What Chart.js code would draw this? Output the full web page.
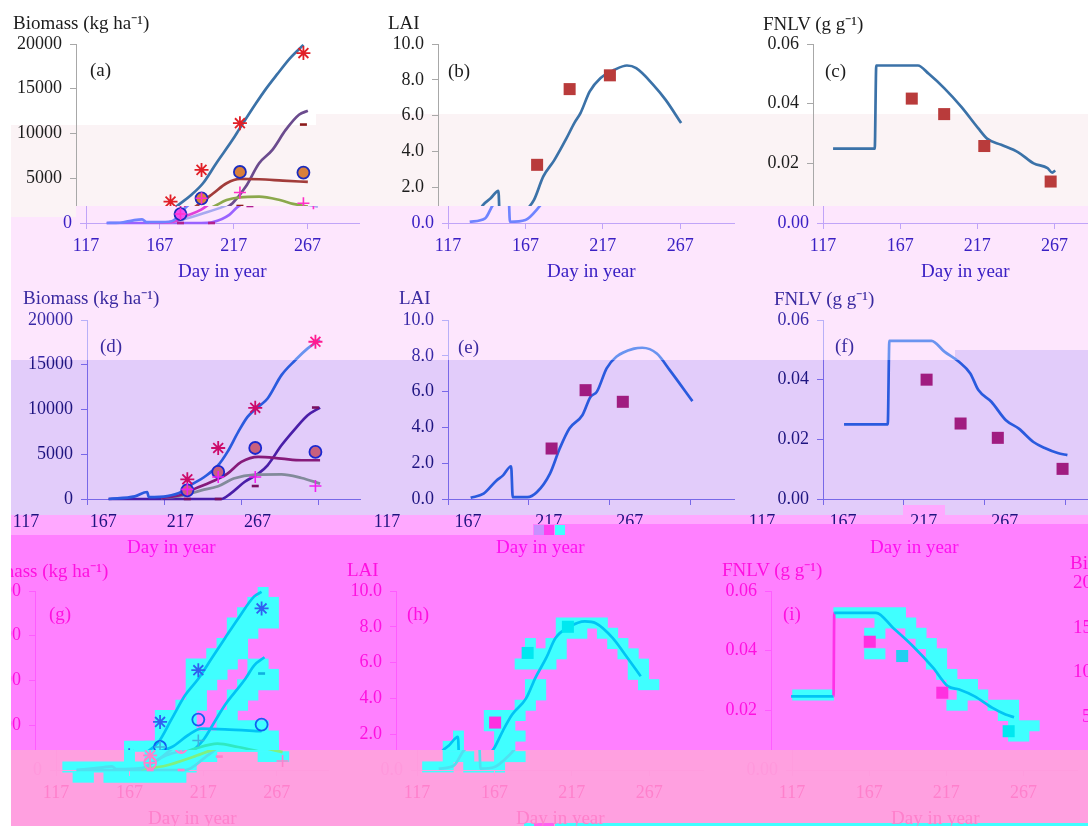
<!DOCTYPE html>
<html>
<head>
<meta charset="utf-8">
<script src="https://cdn.jsdelivr.net/npm/chart.js@4"></script>
<style>
  html, body { margin: 0; padding: 0; background: #fff; }
  #page { position: relative; width: 1088px; height: 826px; overflow: hidden; font-family: "Liberation Serif", serif; }
  .band, .slice, .label { position: absolute; }
  .slice { left: 0; width: 1088px; overflow: hidden; z-index: 2; pointer-events: none; }
  .slice canvas { position: absolute; }
  .label { font-size: 19px; line-height: 20px; white-space: nowrap; z-index: 4; }
</style>
</head>
<body>
<div id="page"></div>
<script>
// tick labels
const xTicks = [117, 167, 217, 267];
const biomassTicks = [0, 5000, 10000, 15000, 20000];
const laiTicks = [0, 2, 4, 6, 8, 10];
const fnlvTicks = [0, 0.02, 0.04, 0.06];

// (a) biomass
const aDayTotal = [131, 140, 149, 155, 158, 165, 175, 185, 195, 203, 212, 223, 228, 239, 246, 253, 262, 271];
const aTotal = [0, 30, 300, 400, 90, 90, 200, 1830, 3130, 4440, 6680, 9290, 10600, 13400, 15070, 16570, 18430, 19900];
const aDayLeaf = [160, 175, 185, 195, 201, 210, 219, 228, 241, 257, 274];
const aLeaf = [50, 100, 800, 1500, 2200, 3320, 4440, 4925, 4890, 4740, 4590];
const aDayStem = [160, 175, 185, 195, 210, 219, 228, 241, 255, 264, 274];
const aStem = [40, 100, 500, 1000, 1830, 2570, 2870, 2950, 2570, 2130, 1830];
const aDayGrain = [131, 195, 203, 214, 219, 223, 232, 241, 250, 259, 268, 274];
const aGrain = [0, 0, 100, 900, 1700, 2200, 4070, 6680, 8170, 10400, 12090, 12540];
const aObsDay = [181, 202, 228, 271];
const aObsStar = [2390, 5930, 11150, 18990];
const aObsCircle = [1000, 2760, 5700, 5630];
const aObsDash = [0, 0, 1900, 11000];
const aObsPlus = [1000, 2760, 3400, 2200];

// (b) LAI
const bDay = [131, 141, 146, 151, 156, 157, 167, 175, 179, 185, 192, 200, 205, 209, 215, 222, 231, 239, 245, 256, 264, 274];
const bLai = [0.07, 0.26, 1.0, 1.38, 1.8, 0.07, 0.17, 0.82, 1.29, 2.6, 3.5, 4.74, 5.58, 6.14, 7.35, 8.1, 8.56, 8.8, 8.65, 7.72, 6.88, 5.58];
const bObsDay = [181, 202, 228];
const bObs = [3.25, 7.48, 8.25];

// (c) FNLV
const cDay = [130, 157, 158, 185, 192, 202, 213, 224, 230, 239, 250, 260, 269, 272, 274];
const cFnlv = [0.0249, 0.0249, 0.0528, 0.0528, 0.05, 0.0452, 0.039, 0.0318, 0.0282, 0.0262, 0.0237, 0.02, 0.0184, 0.0169, 0.0176];
const cObsDay = [181, 202, 228, 271];
const cObs = [0.0417, 0.0365, 0.0258, 0.0139];

// (d) biomass
const dDayTotal = [131, 148, 156, 157, 169, 178, 184, 193, 202, 208, 215, 221, 228, 234, 243, 252, 260, 268];
const dTotal = [0, 300, 780, 220, 330, 780, 1530, 2460, 3770, 5260, 7500, 9180, 10300, 11230, 13840, 15520, 16830, 17760];
const dDayLeaf = [165, 178, 187, 200, 208, 217, 228, 243, 256, 268];
const dLeaf = [100, 480, 1160, 2090, 2840, 4140, 4700, 4510, 4330, 4330];
const dDayStem = [165, 178, 191, 202, 212, 226, 243, 256, 268];
const dStem = [100, 340, 970, 1420, 2280, 2720, 2760, 2350, 1720];
const dDayGrain = [131, 204, 210, 219, 228, 234, 243, 252, 260, 268];
const dGrain = [0, 0, 600, 1900, 2840, 3770, 6000, 7870, 9360, 10220];
const dObsDay = [182, 202, 226, 265];
const dObsStar = [2200, 5700, 10190, 17570];
const dObsCircle = [970, 3020, 5700, 5260];
const dObsDash = [0, 0, 1450, 10220];
const dObsPlus = [1080, 2460, 2460, 1450];

// (e) LAI
const eDay = [131, 139, 147, 151, 156, 157, 166, 172, 180, 186, 192, 200, 205, 209, 215, 221, 232, 237, 246, 254, 268];
const eLai = [0.07, 0.3, 1.04, 1.32, 1.83, 0.1, 0.1, 0.39, 1.42, 2.82, 3.94, 4.68, 5.7, 6.0, 7.3, 7.95, 8.4, 8.45, 8.13, 7.2, 5.47];
const eObsDay = [181, 202, 225];
const eObs = [2.82, 6.08, 5.43];

// (f) FNLV
const fDay = [130, 157, 158, 184, 192, 201, 208, 213, 221, 230, 238, 247, 254, 262, 268];
const fFnlv = [0.025, 0.025, 0.053, 0.053, 0.0494, 0.046, 0.0421, 0.0365, 0.0326, 0.0264, 0.0236, 0.0191, 0.0171, 0.0154, 0.0147];
const fObsDay = [181, 202, 225, 265];
const fObs = [0.04, 0.0253, 0.0205, 0.0101];

// (g) biomass
const gDayTotal = [131, 149, 155, 158, 175, 185, 193, 201, 210, 219, 228, 237, 246, 255, 266, 271];
const gTotal = [0, 300, 400, 90, 200, 1000, 2000, 3130, 5740, 8350, 10200, 12460, 14700, 16900, 19400, 19900];
const gDayLeaf = [175, 192, 210, 221, 230, 246, 271];
const gLeaf = [100, 1640, 2570, 3880, 4620, 4550, 4330];
const gDayStem = [175, 192, 210, 226, 241, 255, 271];
const gStem = [100, 500, 1450, 2390, 2950, 2570, 2000];
const gDayGrain = [131, 205, 219, 226, 232, 239, 246, 253, 260, 266, 273];
const gGrain = [0, 0, 1500, 2400, 3500, 5370, 7240, 8730, 10200, 11700, 12600];
const gObsDay = [181, 202, 228, 271];
const gObsStar = [1640, 5370, 11150, 18050];
const gObsCircle = [800, 2570, 5630, 5070];
const gObsDash = [0, 0, 1500, 10780];
const gObsPlus = [800, 2570, 3300, 1000];

// (h) LAI
const hDay = [131, 141, 147, 151, 157, 158, 167, 175, 180, 186, 192, 201, 207, 214, 220, 229, 239, 246, 257, 265, 275];
const hLai = [0.07, 0.26, 1.07, 1.35, 1.85, 0.08, 0.17, 0.7, 1.17, 2.19, 3.1, 4.0, 5.15, 6.26, 7.37, 8.0, 8.3, 8.2, 7.37, 6.44, 5.24];
const hObsDay = [181, 202, 228];
const hObs = [2.65, 6.54, 8.0];

// (i) FNLV
const iDay = [130, 157.5, 158, 185, 196, 209, 222, 231.5, 239, 249, 260.5, 269, 274.5];
const iFnlv = [0.0247, 0.0247, 0.0527, 0.0527, 0.0477, 0.0415, 0.0343, 0.0281, 0.027, 0.0247, 0.0208, 0.0186, 0.0177];
const iObsDay = [181, 202, 228, 271];
const iObs = [0.043, 0.0382, 0.0259, 0.013];

// cyan compression cells behind the lower row: row number, first column, last column
const cellRow = [0, 1, 2, 3, 4, 5, 6, 7, 7, 8, 8, 9, 9, 10, 10, 11, 11, 12, 12, 13, 13, 14, 15, 15, 16, 16, 16, 17, 18, 18,
  3, 4, 4, 5, 5, 5, 6, 6, 6, 7, 7, 8, 9, 9, 10, 11, 12, 13, 14, 14, 15, 15, 16, 16, 17, 17,
  2, 3, 3, 4, 4, 5, 6, 6, 7, 8, 9, 9, 10, 10, 11, 11, 12, 13, 14];
const cellFrom = [25, 24, 23, 22, 22, 21, 20, 18, 24, 18, 24, 18, 23, 18, 22, 17, 22, 15, 21, 15, 21, 15, 12, 14, 12, 14, 25, 6, 7, 10,
  54, 54, 58, 51, 53, 59, 51, 53, 60, 50, 61, 61, 51, 62, 51, 50, 47, 47, 44, 48, 43, 48, 43, 48, 41, 45,
  81, 85, 87, 84, 88, 89, 84, 90, 90, 91, 92, 93, 77, 93, 92, 96, 97, 98, 98];
const cellTo = [25, 26, 26, 26, 24, 23, 23, 22, 25, 21, 26, 20, 26, 19, 24, 19, 23, 18, 22, 18, 25, 26, 26, 26, 12, 20, 27, 18, 8, 17,
  58, 56, 59, 51, 54, 60, 52, 54, 61, 53, 62, 62, 52, 63, 52, 51, 50, 49, 44, 50, 44, 49, 45, 50, 43, 48,
  87, 86, 88, 85, 89, 90, 85, 91, 91, 92, 94, 94, 80, 95, 93, 98, 98, 100, 99];

const page = document.getElementById('page');

// colour bands of the scan, back to front
function addBand(x, y, w, h, color, z) {
  const d = document.createElement('div');
  d.className = 'band';
  d.style.cssText = `left:${x}px;top:${y}px;width:${w}px;height:${h}px;background:${color};z-index:${z || 0}`;
  page.appendChild(d);
}
addBand(11, 125, 305, 92, '#fbf3f5');
addBand(316, 114, 772, 92, '#fbf3f5');
addBand(76, 206, 240, 11, '#fde6fd');
addBand(11, 217, 1077, 143, '#fde6fd');
addBand(316, 206, 772, 154, '#fde6fd');
addBand(955, 350, 133, 10, '#e2ccfa');
addBand(11, 360, 1077, 155, '#e2ccfa');
addBand(903, 505, 42, 10, '#ffa8ff');
addBand(11, 515, 1077, 20, '#ffa8ff');
addBand(11, 535, 1077, 215, '#ff80ff');
addBand(11, 750, 1077, 76, '#ffa0e0');
addBand(533, 524, 555, 11, '#ff80ff', 3);
addBand(534, 525, 10, 10, '#c890ff', 3);
addBand(544, 525, 10, 10, '#ff40f0', 3);
addBand(555, 525, 10, 10, '#40ffff', 3);
addBand(524, 823, 10, 3, '#40ffff', 3);
addBand(534, 823, 20, 3, '#ff60f0', 3);
addBand(555, 823, 533, 3, '#40ffff', 3);
addBand(0, 0, 11, 826, '#ffffff', 5);

function points(days, values) {
  return days.map((d, i) => ({ x: d, y: values[i] }));
}

// --- cyan cells ---
(function drawCells() {
  const canvas = document.createElement('canvas');
  canvas.width = 1088;
  canvas.height = 240;
  canvas.style.cssText = 'position:absolute;left:1px;top:587px;z-index:1';
  page.appendChild(canvas);
  new Chart(canvas, {
    type: 'bar',
    data: {
      datasets: [{
        data: cellRow.map((r, i) => ({ y: r + 0.5, x: [cellFrom[i], cellTo[i] + 1] })),
        backgroundColor: '#40ffff',
        barThickness: 10.3,
        borderWidth: 0
      }]
    },
    options: {
      indexAxis: 'y',
      responsive: false,
      animation: false,
      layout: { padding: 0 },
      plugins: { legend: { display: false }, tooltip: { enabled: false } },
      scales: {
        x: { type: 'linear', min: 0, max: 1088 / 10.28, display: false },
        y: { type: 'linear', min: 0, max: 240 / 10.28, reverse: true, offset: false, display: false }
      }
    }
  });
})();

const TOP_PAL = { text: '#1c1c1c', yText: '#1c1c1c', axis: '#a8a8a8', axisX: '#a8a8a8', lines: ['#3b72a8', '#a23c3a', '#8ba84c', '#6b4b8e'], star: '#e11f26', fill: '#d9803a', ring: '#1b2bbd', dash: '#8c1a1a', plus: '#ff30c8', square: '#b93b3b' };
const LOW_PAL = { text: '#3a20c4', yText: '#3a20c4', axis: '#c0a4f8', axisX: '#c0a4f8', lines: ['#6f84ff', '#e040d8', '#a8a8f0', '#9a62ff'], star: '#e11f90', fill: '#f050f0', ring: '#1b2bbd', dash: '#b02090', plus: '#ff30d0', square: '#b93b8b' };
const MID_PAL = { text: '#3a2aa8', yText: '#3a2aa8', axis: '#b8b0f8', axisX: '#b8b0f8', lines: ['#6a94f0', '#b030a0', '#a0a0c0', '#6a40d0'], star: '#ff1a90', fill: '#d87090', ring: '#1a28d0', dash: '#901070', plus: '#f020f0', square: '#a01c80' };
const LAV_PAL = { text: '#1e1480', yText: '#1e1480', axis: '#7868e8', axisX: '#7868e8', lines: ['#2a5ade', '#861a7a', '#828a9a', '#4a1ea8'], star: '#cc0a6a', fill: '#c8607e', ring: '#1a28d0', dash: '#7a1060', plus: '#f020f0', square: '#a01c80' };
const PINK_PAL = { text: '#ff10e0', yText: '#ff10e0', axis: '#ff5cff', axisX: '#ff5cff', lines: ['#00c4f4', '#00c4f4', '#30e8c0', '#00c4f4'], star: '#3060f0', fill: 'rgba(0,0,0,0)', ring: '#1060f0', dash: '#10b0e0', plus: '#40b0e0', square: '#00e8f0' };
const WASH_PAL = { text: '#ff80cc', yText: '#ff98dc', axis: '#ff9cde', axisX: '#ff9cde', lines: ['#50e0f0', '#50e0f0', '#80f080', '#50e0f0'], star: '#ff80cc', fill: 'rgba(0,0,0,0)', ring: '#ff80cc', dash: '#ff80cc', plus: '#ff80cc', square: '#00e8f0' };

// each row is cut in two where the picture was torn: top part, bottom part
const rowTop = { yTop: 44, yZero: 223, xMax: 302, labelShift: 0,
  upper: { top: 0, bottom: 206, dx: -10, pal: TOP_PAL, xLabels: false },
  lower: { top: 206, bottom: 290, dx: 0, pal: LOW_PAL, xLabels: true } };
const rowMid = { yTop: 320, yZero: 499, xMax: 294, labelShift: -61,
  upper: { top: 290, bottom: 360, dx: 0, pal: MID_PAL, xLabels: false },
  lower: { top: 360, bottom: 535, dx: 0, pal: LAV_PAL, xLabels: true } };
const rowLow = { yTop: 591, yZero: 770, xMax: 302, labelShift: 0,
  upper: { top: 555, bottom: 750, dx: -21, pal: PINK_PAL, xLabels: false },
  lower: { top: 750, bottom: 826, dx: 0, pal: WASH_PAL, xLabels: true } };

function biomassSets(total, leaf, stem, grain, obsDay, star, circle, dash, plus) {
  return { lines: [total, leaf, stem, grain], obs: [
    { kind: 'plus', data: points(obsDay, plus) },
    { kind: 'circle', data: points(obsDay, circle) },
    { kind: 'dash', data: points(obsDay, dash) },
    { kind: 'star', data: points(obsDay, star) }
  ] };
}
function singleSet(line, obsDay, obs) {
  return { lines: [line], obs: [{ kind: 'square', data: points(obsDay, obs) }] };
}

function buildPanel(row, axisX, spacing, yTicks, decimals, sets, squareColors, rise) {
  [row.upper, row.lower].forEach(slice => {
    const wrap = document.createElement('div');
    wrap.className = 'slice';
    wrap.style.top = slice.top + 'px';
    wrap.style.height = (slice.bottom - slice.top) + 'px';
    page.appendChild(wrap);

    const canvas = document.createElement('canvas');
    const plotW = spacing * (row.xMax - 117) / 50;
    canvas.width = Math.round(80 + plotW + 8);
    canvas.height = 10 + (row.yZero - row.yTop) + 36;
    canvas.style.left = (axisX + slice.dx - 80) + 'px';
    canvas.style.top = (row.yTop - 10 - slice.top) + 'px';
    wrap.appendChild(canvas);

    const pal = slice.pal;
    const yMax = yTicks[yTicks.length - 1];
    const datasets = [];
    sets.obs.forEach(o => {
      const base = { type: 'scatter', data: o.data, showLine: false, clip: false };
      if (o.kind === 'star') Object.assign(base, { pointStyle: 'star', pointRadius: 7, pointBorderWidth: 1.8, pointBorderColor: pal.star, pointBackgroundColor: pal.star });
      if (o.kind === 'circle') Object.assign(base, { pointStyle: 'circle', pointRadius: 6, pointBorderWidth: 1.8, pointBorderColor: pal.ring, pointBackgroundColor: pal.fill });
      if (o.kind === 'dash') Object.assign(base, { pointStyle: 'line', pointRadius: 3.5, pointBorderWidth: 2.6, pointBorderColor: pal.dash, pointBackgroundColor: pal.dash });
      if (o.kind === 'plus') Object.assign(base, { pointStyle: 'cross', pointRadius: 6, pointBorderWidth: 1.6, pointBorderColor: pal.plus, pointBackgroundColor: pal.plus });
      if (o.kind === 'square') {
        const fill = squareColors && slice === row.upper ? squareColors : pal.square;
        Object.assign(base, { pointStyle: 'rect', pointRadius: 8.5, pointBorderWidth: 0, pointBackgroundColor: fill });
      }
      datasets.push(base);
    });
    sets.lines.forEach((line, i) => {
      const ds = {
        type: 'line', data: line, parsing: true, borderColor: pal.lines[i], borderWidth: 2.7,
        pointRadius: 0, cubicInterpolationMode: 'monotone', clip: false, fill: false
      };
      if (rise && slice === row.upper) {
        ds.segment = { borderColor: ctx => (ctx.p1.parsed.y - ctx.p0.parsed.y > yMax / 5 ? rise : undefined) };
      }
      datasets.push(ds);
    });

    new Chart(canvas, {
      data: { datasets },
      options: {
        responsive: false,
        animation: false,
        layout: { padding: { top: 10, right: 0, left: 0, bottom: 0 } },
        plugins: { legend: { display: false }, tooltip: { enabled: false } },
        scales: {
          x: {
            type: 'linear', min: 117, max: row.xMax,
            afterBuildTicks: s => { s.ticks = xTicks.map(v => ({ value: v })); },
            afterFit: s => { s.height = 36; s.paddingLeft = 0; s.paddingRight = 0; },
            grid: { drawOnChartArea: false, color: pal.axisX, tickLength: 6 },
            border: { color: pal.axisX },
            ticks: {
              autoSkip: false, maxRotation: 0, padding: 6, labelOffset: row.labelShift,
              color: pal.text, font: { family: 'Liberation Serif', size: 18 },
              callback: v => (slice.xLabels ? String(v) : '')
            }
          },
          y: {
            min: 0, max: yMax,
            afterBuildTicks: s => { s.ticks = yTicks.map(v => ({ value: v })); },
            afterFit: s => { s.width = 80; s.paddingTop = 0; s.paddingBottom = 0; },
            grid: { drawOnChartArea: false, color: pal.axis, tickLength: 6 },
            border: { color: pal.axis },
            ticks: {
              padding: 8, color: pal.yText, font: { family: 'Liberation Serif', size: 18 },
              callback: v => {
                // show a label only in the part of the tear it sits in
                const py = row.yTop + (1 - v / yMax) * (row.yZero - row.yTop);
                if (py < slice.top - 9 || py > slice.bottom + 9) return '';
                return v.toFixed(decimals);
              }
            }
          }
        }
      }
    });
  });
}

buildPanel(rowTop, 86, 74, biomassTicks, 0, biomassSets(points(aDayTotal, aTotal), points(aDayLeaf, aLeaf), points(aDayStem, aStem), points(aDayGrain, aGrain), aObsDay, aObsStar, aObsCircle, aObsDash, aObsPlus));
buildPanel(rowTop, 448, 77.6, laiTicks, 1, singleSet(points(bDay, bLai), bObsDay, bObs));
buildPanel(rowTop, 823, 77.3, fnlvTicks, 2, singleSet(points(cDay, cFnlv), cObsDay, cObs));
buildPanel(rowMid, 87, 77.3, biomassTicks, 0, biomassSets(points(dDayTotal, dTotal), points(dDayLeaf, dLeaf), points(dDayStem, dStem), points(dDayGrain, dGrain), dObsDay, dObsStar, dObsCircle, dObsDash, dObsPlus));
buildPanel(rowMid, 448, 81, laiTicks, 1, singleSet(points(eDay, eLai), eObsDay, eObs));
buildPanel(rowMid, 823, 81, fnlvTicks, 2, singleSet(points(fDay, fFnlv), fObsDay, fObs));
buildPanel(rowLow, 56, 73.7, biomassTicks, 0, biomassSets(points(gDayTotal, gTotal), points(gDayLeaf, gLeaf), points(gDayStem, gStem), points(gDayGrain, gGrain), gObsDay, gObsStar, gObsCircle, gObsDash, gObsPlus));
buildPanel(rowLow, 417, 77.7, laiTicks, 1, singleSet(points(hDay, hLai), hObsDay, hObs), ['#ff30e0', '#00e8f0', '#00e8f0']);
buildPanel(rowLow, 792, 77.3, fnlvTicks, 2, singleSet(points(iDay, iFnlv), iObsDay, iObs), ['#ff30e0', '#20d0f0', '#ff30e0', '#00e8f0'], '#ff30e8');

// titles and panel letters
function addLabel(text, x, y, color) {
  const s = document.createElement('span');
  s.className = 'label';
  s.textContent = text;
  s.style.left = x + 'px';
  s.style.top = (y - 10) + 'px';
  s.style.color = color;
  page.appendChild(s);
}
const INK = '#1c1c1c', INDIGO = '#3a20c4', NAVY = '#3a2aa0', MAGENTA = '#ff10f0', PINK = '#ff10e0', WASH = '#ff80cc';
addLabel('Biomass (kg ha\u207B\u00B9)', 13, 23, INK);
addLabel('LAI', 388, 23, INK);
addLabel('FNLV (g g\u207B\u00B9)', 763, 24, INK);
addLabel('(a)', 90, 70, INK);
addLabel('(b)', 448, 71, INK);
addLabel('(c)', 825, 71, INK);
addLabel('Day in year', 178, 271, INDIGO);
addLabel('Day in year', 547, 271, INDIGO);
addLabel('Day in year', 921, 271, INDIGO);
addLabel('Biomass (kg ha\u207B\u00B9)', 23, 298, NAVY);
addLabel('LAI', 399, 298, NAVY);
addLabel('FNLV (g g\u207B\u00B9)', 774, 299, NAVY);
addLabel('(d)', 100, 346, NAVY);
addLabel('(e)', 458, 347, NAVY);
addLabel('(f)', 835, 346, NAVY);
addLabel('Day in year', 127, 547, MAGENTA);
addLabel('Day in year', 496, 547, MAGENTA);
addLabel('Day in year', 870, 547, MAGENTA);
addLabel('Biomass (kg ha\u207B\u00B9)', -28, 571, PINK);
addLabel('LAI', 347, 570, PINK);
addLabel('FNLV (g g\u207B\u00B9)', 722, 570, PINK);
addLabel('(g)', 49, 614, PINK);
addLabel('(h)', 407, 614, PINK);
addLabel('(i)', 783, 614, PINK);
addLabel('Day in year', 148, 818, WASH);
addLabel('Day in year', 516, 818, WASH);
addLabel('Day in year', 891, 818, WASH);
// next panel running off the right edge
addLabel('Biomass', 1070, 563, PINK);
addLabel('20000', 1073, 582, PINK);
addLabel('15000', 1073, 627, PINK);
addLabel('10000', 1073, 671, PINK);
addLabel('5000', 1082, 716, PINK);
</script>
</body>
</html>
